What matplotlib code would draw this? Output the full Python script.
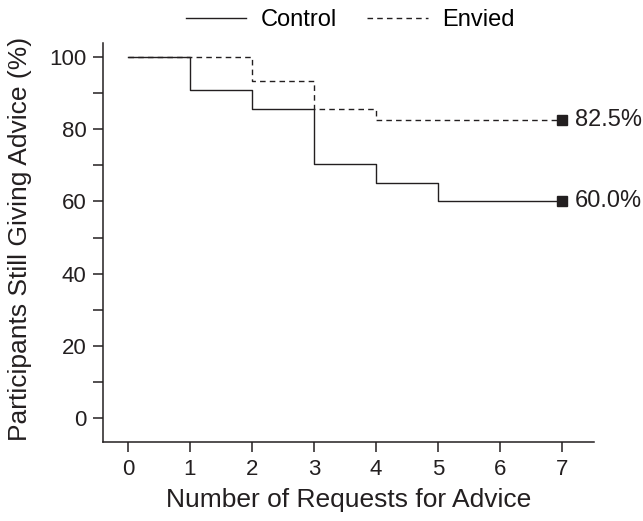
import matplotlib
matplotlib.use("Agg")
from matplotlib import pyplot as plt
import numpy as np

plt.rcParams['font.family'] = ['Liberation Sans', 'DejaVu Sans']

# number of requests
requests = [0, 1, 2, 3, 4, 5, 6, 7]
# percent still giving advice
control = [100, 91.0, 85.5, 70.5, 65.0, 60.0, 60.0, 60.0]
envied = [100, 100, 93.5, 85.5, 82.5, 82.5, 82.5, 82.5]
final_labels = ["60.0%", "82.5%"]

ink = '#231f20'

fig = plt.figure(figsize=(6.43, 5.21), dpi=100)
ax = fig.add_axes([0.1602, 0.1516, 0.7636, 0.7659])

ax.step(requests, control, where='post', color=ink, lw=1.0, label='Control')
ax.step(requests, envied, where='post', color=ink, lw=1.0, ls=(0, (4, 3)), label='Envied')

ax.plot(requests[-1], control[-1], 's', color=ink, ms=7.5)
ax.plot(requests[-1], envied[-1], 's', color=ink, ms=7.5)
ax.text(requests[-1] + 0.21, control[-1], final_labels[0], fontsize=17, va='center', color=ink)
ax.text(requests[-1] + 0.21, envied[-1], final_labels[1], fontsize=17, va='center', color=ink)

ax.set_xlim(-0.403, 7.52)
ax.set_ylim(-6.65, 103.9)
ax.set_xticks(requests)
ax.set_yticks([0, 20, 40, 60, 80, 100])
ax.set_yticks([10, 30, 50, 70, 90], minor=True)
ax.tick_params(axis='both', direction='out', labelsize=16, colors=ink, length=7, width=1.1, pad=5)
ax.tick_params(axis='y', which='minor', direction='out', length=7, width=1.1, colors=ink)
ax.spines['top'].set_visible(False)
ax.spines['right'].set_visible(False)
for s in ['left', 'bottom']:
    ax.spines[s].set_linewidth(1.1)
    ax.spines[s].set_color(ink)

ax.set_xlabel("Number of Requests for Advice", fontsize=19, color=ink, labelpad=6)
ax.set_ylabel("Participants Still Giving Advice (%)", fontsize=19, color=ink)
ax.yaxis.set_label_coords(-0.1446, 0.51)

fig.legend(*ax.get_legend_handles_labels(), loc='center left',
           bbox_to_anchor=(186 / 643, 1 - 20 / 521), ncol=2, frameon=False,
           fontsize=17, handlelength=2.55, handletextpad=0.6, columnspacing=1.3,
           borderpad=0, borderaxespad=0)

fig.savefig("out.png", dpi=100)
